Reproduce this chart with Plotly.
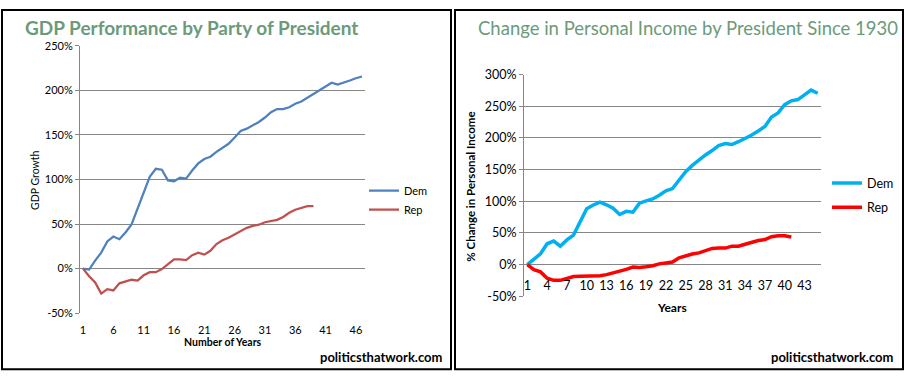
import plotly.graph_objects as go

# ---------------- data ----------------
gdp_years = list(range(1, 48))
gdp_dem = [0, -1, 9, 18, 30.5, 36, 33, 40.5, 49.5, 67, 85, 103, 112, 111, 99, 98, 102, 101,
           110, 118, 123, 125.5, 131, 135.5, 140, 147, 154.5, 157, 161, 164.5, 169.5, 175.5,
           179, 179, 181, 185, 187.5, 191.5, 196, 200, 204, 208.5, 206.5, 208.5, 211, 213.5, 215.5]
gdp_rep = [0, -8.5, -15.5, -28, -23, -24.5, -16.5, -14.5, -12.5, -13.5, -7.5, -4, -4, -0.5,
           5, 10.5, 10.5, 9.5, 15, 17.8, 15.7, 20, 27.5, 31.8, 34.7, 38.4, 41.7, 45.7, 48,
           49.3, 52, 53, 54.7, 58, 62.6, 66, 68, 70, 70]
gdp_xticks = [1, 6, 11, 16, 21, 26, 31, 36, 41, 46]
gdp_yticks = [-50, 0, 50, 100, 150, 200, 250]
gdp_yticktext = ["-50%", "0%", "50%", "100%", "150%", "200%", "250%"]

inc_years = list(range(1, 46))
inc_dem = [0, 8.6, 17, 32.8, 37, 29, 38.8, 46.5, 66.6, 88, 94, 98.5, 94.4, 88.8, 79, 84, 82.7,
           97, 100.5, 103.5, 109.5, 116.5, 120, 134, 146.5, 156.5, 165, 173, 180, 188, 191,
           189.5, 194, 199, 204.5, 211, 218, 233, 239.5, 252.5, 258.5, 260.5, 267.5, 275.5, 270.5]
inc_rep = [0, -8, -11.6, -21.7, -25, -25, -22, -19, -18.7, -18.7, -18, -17.7, -16, -13.6,
           -10.6, -7.6, -4, -4.5, -3.5, -2, 1, 2, 4, 10.6, 14, 16.6, 18.4, 22, 25.5, 26, 26,
           29, 29, 32, 35, 38, 39.5, 44, 45.5, 45.5, 43.5]
inc_xticks = [1, 4, 7, 10, 13, 16, 19, 22, 25, 28, 31, 34, 37, 40, 43]
inc_yticks = [-50, 0, 50, 100, 150, 200, 250, 300]
inc_yticktext = ["-50%", "0%", "50%", "100%", "150%", "200%", "250%", "300%"]

# ---------------- layout helpers ----------------
W, H = 906, 381
FONT = "Lato"
GRID = "#868686"
TITLE_COLOR = "#6B9B7B"


def px(x):
    return x / W


def py(y):
    return 1 - y / H


L_X0, L_X1, L_YT, L_YB = 80, 365, 39.3, 317.7
R_X0, R_X1, R_YT, R_YB = 524, 821, 69.3, 300.0
L_RANGE = [-50, 250]
R_RANGE = [-50, 300]


def zero_pos(yt, yb, rng):
    lo, hi = py(yb), py(yt)
    return lo + (0 - rng[0]) / (rng[1] - rng[0]) * (hi - lo)


fig = go.Figure()
fig.add_trace(go.Scatter(x=gdp_years, y=gdp_dem, name="Dem", mode="lines", xaxis="x", yaxis="y",
                         line=dict(color="#4F81BD", width=2.25), legend="legend"))
fig.add_trace(go.Scatter(x=gdp_years[:len(gdp_rep)], y=gdp_rep, name="Rep", mode="lines",
                         xaxis="x", yaxis="y", line=dict(color="#C0504D", width=2.25), legend="legend"))
fig.add_trace(go.Scatter(x=inc_years, y=inc_dem, name="Dem", mode="lines", xaxis="x2", yaxis="y2",
                         line=dict(color="#00B0F0", width=3.5), legend="legend2", legendgroup="d2"))
fig.add_trace(go.Scatter(x=inc_years[:len(inc_rep)], y=inc_rep, name="Rep", mode="lines",
                         xaxis="x2", yaxis="y2", line=dict(color="#FF0000", width=3.5),
                         legend="legend2", legendgroup="r2"))

l_range_x = [0.5, len(gdp_years) + 0.5]
r_range_x = [0.5, len(inc_years) + 0.5]
l_bounds = [i + 0.5 for i in range(0, len(gdp_years) + 1)]
r_bounds = [i + 0.5 for i in range(0, len(inc_years) + 1)]

fig.update_layout(
    width=W, height=H,
    margin=dict(l=0, r=0, t=0, b=0),
    paper_bgcolor="white", plot_bgcolor="white",
    font=dict(family=FONT, color="black"),
    hovermode=False,
    # ----- left chart -----
    xaxis=dict(domain=[px(L_X0), px(L_X1)], range=l_range_x, anchor="y",
               tickvals=gdp_xticks, ticktext=[str(v) for v in gdp_xticks],
               ticks="", showgrid=False, showline=False, zeroline=False,
               tickfont=dict(size=11), ticklabelstandoff=9, fixedrange=True),
    xaxis3=dict(overlaying="x", range=l_range_x, anchor="free",
                position=zero_pos(L_YT, L_YB, L_RANGE),
                tickvals=l_bounds, ticks="outside", ticklen=4, tickcolor=GRID,
                showticklabels=False, showgrid=False, zeroline=False,
                showline=True, linecolor=GRID, linewidth=1, fixedrange=True),
    yaxis=dict(domain=[py(L_YB), py(L_YT)], range=L_RANGE, anchor="x",
               tickvals=gdp_yticks, ticktext=gdp_yticktext,
               showgrid=True, gridcolor=GRID, gridwidth=1, zeroline=False,
               showline=True, linecolor=GRID, ticks="outside", ticklen=4, tickcolor=GRID,
               tickfont=dict(size=11), fixedrange=True),
    # ----- right chart -----
    xaxis2=dict(domain=[px(R_X0), px(R_X1)], range=r_range_x, anchor="free",
                position=zero_pos(R_YT, R_YB, R_RANGE),
                tickvals=inc_xticks, ticktext=[str(v) for v in inc_xticks],
                ticks="", showgrid=False, showline=False, zeroline=False,
                tickfont=dict(size=12.5), ticklabelstandoff=12, fixedrange=True),
    xaxis4=dict(overlaying="x2", range=r_range_x, anchor="free",
                position=zero_pos(R_YT, R_YB, R_RANGE),
                tickvals=r_bounds, ticks="outside", ticklen=4, tickcolor=GRID,
                showticklabels=False, showgrid=False, zeroline=False,
                showline=True, linecolor=GRID, linewidth=1, fixedrange=True),
    yaxis2=dict(domain=[py(R_YB), py(R_YT)], range=R_RANGE, anchor="x2",
                tickvals=inc_yticks, ticktext=inc_yticktext,
                showgrid=True, gridcolor=GRID, gridwidth=1, zeroline=False,
                showline=True, linecolor=GRID, ticks="outside", ticklen=4, tickcolor=GRID,
                tickfont=dict(size=12.5), fixedrange=True),
    legend=dict(x=px(364), y=py(175), xanchor="left", yanchor="top",
                font=dict(size=11), bgcolor="rgba(0,0,0,0)", itemwidth=30, tracegroupgap=0),
    legend2=dict(x=px(827), y=py(167), xanchor="left", yanchor="top",
                 font=dict(size=12.5), bgcolor="rgba(0,0,0,0)", itemwidth=30, tracegroupgap=5),
    showlegend=True,
)

annotations = [
    dict(text="GDP Performance by Party of President", x=px(23), y=py(20), xanchor="left",
         yanchor="middle", font=dict(size=19, color=TITLE_COLOR, weight="bold")),
    dict(text="Change in Personal Income by President Since 1930", x=px(476), y=py(21),
         xanchor="left", yanchor="middle", font=dict(size=18.5, color=TITLE_COLOR)),
    dict(text="GDP Growth", x=px(35), y=py(180), textangle=-90, xanchor="center",
         yanchor="middle", font=dict(size=10.5)),
    dict(text="Number of Years", x=px(223), y=py(348), xanchor="center", yanchor="middle",
         font=dict(size=10.5, weight="bold")),
    dict(text="% Change in Personal Income", x=px(471), y=py(186), textangle=-90,
         xanchor="center", yanchor="middle", font=dict(size=11.5, weight="bold")),
    dict(text="Years", x=px(672), y=py(312), xanchor="center", yanchor="middle",
         font=dict(size=12, weight="bold")),
    dict(text="politicsthatwork.com", x=px(445), y=py(363), xanchor="right", yanchor="middle",
         font=dict(size=13, weight="bold")),
    dict(text="politicsthatwork.com", x=px(896), y=py(363), xanchor="right", yanchor="middle",
         font=dict(size=13, weight="bold")),
]
for a in annotations:
    a.update(xref="paper", yref="paper", showarrow=False)
fig.update_layout(annotations=annotations)

fig.update_layout(shapes=[
    dict(type="rect", xref="paper", yref="paper", x0=px(2), x1=px(451), y0=py(376), y1=py(2),
         line=dict(color="black", width=2)),
    dict(type="rect", xref="paper", yref="paper", x0=px(455), x1=px(903), y0=py(376), y1=py(2),
         line=dict(color="black", width=2)),
])

fig.write_html(
    "out.html",
    config={"displayModeBar": False, "staticPlot": False},
    post_script="document.body.style.margin='0px';document.body.style.overflow='hidden';",
)
